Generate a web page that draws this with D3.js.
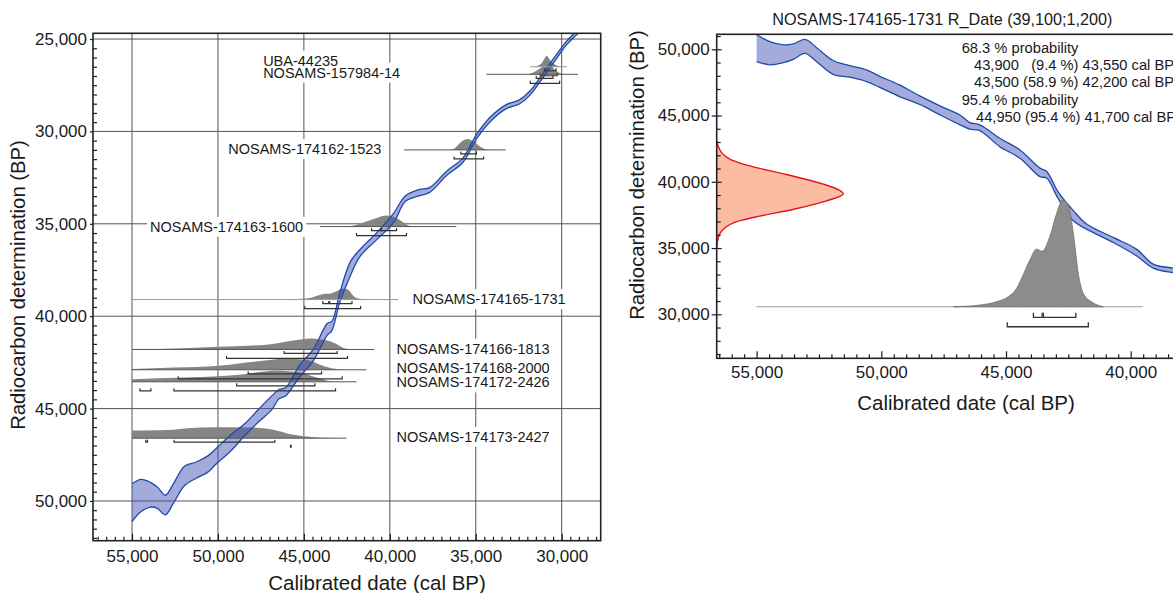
<!DOCTYPE html>
<html><head><meta charset="utf-8">
<script src="https://cdn.jsdelivr.net/npm/d3@7"></script>
<style>
body{margin:0;background:#fff;}
svg{display:block;font-family:"Liberation Sans",Arial,Helvetica,sans-serif;}
</style></head><body>
<svg id="chart" width="1173" height="593"></svg>
<script>
// ---------- DATA ----------
// calibration curve (cal BP, radiocarbon BP, 1-sigma half width)
const curveCal = [55000,54470,53930,53530,53060,52590,51930,51260,50590,50060,49270,48460,47650,46850,46450,46050,45250,44440,43640,43370,42910,42300,41770,40700,39770,39100,38310,37680,36700,35740,34960,34190,33220,32440,31860,31280,30310,29730,29150,28600];
const curveBP  = [50090,49700,49660,49820,50220,49590,48630,48330,48000,47540,46870,46160,45390,44670,44220,44080,42970,42090,40710,40530,38990,37440,36620,35610,34670,33640,33320,33170,32270,31550,30290,29380,28660,28390,27940,27220,25960,25230,24690,24200];
const curveErr = [1020,870,670,580,530,530,520,440,440,420,440,320,340,370,250,220,320,310,320,250,250,380,190,190,250,150,170,130,120,120,120,120,110,110,110,110,110,100,100,100];

const sampleNames = ["UBA-44235","NOSAMS-157984-14","NOSAMS-174162-1523","NOSAMS-174163-1600","NOSAMS-174165-1731","NOSAMS-174166-1813","NOSAMS-174168-2000","NOSAMS-174172-2426","NOSAMS-174173-2427"];
const sampleBP   = [26500,26910,31000,35150,39100,41800,42900,43550,46600];
const sampleFrom = [31830,34380,39170,44070,55000,55000,55000,55000,55000];
const sampleTo   = [29700,29050,33260,36130,39520,40910,41360,41940,42520];
// calibrated probability (cal BP, relative density)
const sampleDensity = [
  [[31700,0],[31400,0.1],[31150,0.35],[31000,0.75],[30880,1],[30750,0.8],[30600,0.45],[30400,0.2],[30150,0.05],[29900,0]],
  [[32000,0],[31700,0.15],[31400,0.4],[31100,0.7],[30850,1],[30600,0.75],[30350,0.35],[30100,0.1],[29800,0]],
  [[36500,0],[36320,0.05],[36030,0.45],[35740,0.85],[35450,1],[35160,0.78],[34870,0.45],[34580,0.15],[34380,0.03],[34100,0]],
  [[43000,0],[42300,0.05],[42035,0.12],[41355,0.47],[40773,0.78],[40192,1],[39611,0.78],[39128,0.3],[38837,0.05],[38400,0]],
  [[47100,0],[46040,0.016],[45380,0.047],[44910,0.094],[44580,0.17],[44310,0.3],[44040,0.44],[43770,0.54],[43550,0.52],[43240,0.66],[42970,0.875],[42730,1],[42500,0.95],[42300,0.69],[42100,0.31],[41900,0.125],[41570,0.047],[41100,0]],
  [[55000,0.03],[52000,0.12],[50000,0.25],[48000,0.36],[46800,0.5],[46100,0.7],[45300,0.88],[44650,1],[44000,0.9],[43400,0.7],[43000,0.4],[42620,0.09],[42200,0.02],[41500,0]],
  [[55000,0.06],[52500,0.2],[50000,0.37],[47660,0.78],[46100,1],[44940,0.93],[44550,0.78],[43780,0.3],[43000,0.05],[42600,0]],
  [[55000,0.23],[52000,0.38],[50000,0.5],[48620,0.67],[46690,1],[45130,0.83],[44360,0.43],[43700,0.12],[43000,0]],
  [[55000,0.7],[53500,0.72],[52600,0.76],[51800,0.9],[50100,1],[48100,0.97],[46600,0.7],[45600,0.3],[44400,0.09],[43500,0.02],[42900,0]]
];
const range68 = [
  [[31010,30330]],
  [[31480,30510]],
  [[35870,34960]],
  [[41060,40500],[40480,39610]],
  [[43900,43550],[43500,42200]],
  [[46150,43060]],
  [[48240,43970]],
  [[48910,44360]],
  [[54200,54100],[52560,46690]]
];
const range95 = [
  [[31250,30260]],
  [[31830,30120]],
  [[36260,34540]],
  [[41940,39030]],
  [[44950,41700]],
  [[49500,42460]],
  [[52310,42770]],
  [[54540,53900],[52560,43160]],
  [[45780,45740]]
];
const labelCal = [47370,47370,49400,53950,38680,39610,39610,39610,39610];
const labelBP  = [26160,26810,30950,35150,39070,41740,42800,43570,46520];

const rDateCurve = [[43060,0],[42500,0.02],[42190,0.04],[41680,0.11],[41180,0.27],[40550,0.55],[39800,0.85],[39300,0.98],[39100,1],[38540,0.86],[37910,0.6],[37410,0.34],[37030,0.17],[36400,0.05],[35700,0.01],[35000,0]];
const detailIndex = 4;
const detailTitle = "NOSAMS-174165-1731 R_Date (39,100;1,200)";
const detailText = ["68.3 % probability","43,900   (9.4 %) 43,550 cal BP","43,500 (58.9 %) 42,200 cal BP","95.4 % probability","44,950 (95.4 %) 41,700 cal BP"];

const calTicksL = [55000,50000,45000,40000,35000,30000];
const bpTicksL  = [25000,30000,35000,40000,45000,50000];
const calTicksR = [55000,50000,45000,40000];
const bpTicksR  = [30000,35000,40000,45000,50000];
const xTitle = "Calibrated date (cal BP)";
const yTitle = "Radiocarbon determination (BP)";

// ---------- DRAW ----------
const svg = d3.select("#chart");
const FONT = '"Liberation Sans",Arial,Helvetica,sans-serif';
const fmt = d3.format(",");

const xL = d3.scaleLinear().domain([57270, 27730]).range([93, 600.7]);
const yL = d3.scaleLinear().domain([24690, 52150]).range([33.3, 540.7]);
const xR = d3.scaleLinear().domain([56600, 36620]).range([716.7, 1215]);
const yR = d3.scaleLinear().domain([26680, 51130]).range([358.3, 34.3]);

const defs = svg.append("defs");
defs.append("clipPath").attr("id","clipL").append("rect")
  .attr("x",xL.range()[0]).attr("y",yL.range()[0]).attr("width",xL.range()[1]-xL.range()[0]).attr("height",yL.range()[1]-yL.range()[0]);
defs.append("clipPath").attr("id","clipR").append("rect")
  .attr("x",xR.range()[0]).attr("y",yR.range()[1]).attr("width",xR.range()[1]-xR.range()[0]).attr("height",yR.range()[0]-yR.range()[1]);

const curveData = curveCal.map((c,i)=>({cal:c, bp:curveBP[i], err:curveErr[i]}));
const BLUE = "#1f4aa8", BANDFILL = "rgba(60,80,180,0.48)";

function drawCurve(g, xs, ys){
  const cv = d3.curveCatmullRom.alpha(0.5);
  g.append("path").datum(curveData)
    .attr("d", d3.area().x(d=>xs(d.cal)).y0(d=>ys(d.bp-d.err)).y1(d=>ys(d.bp+d.err)).curve(cv))
    .attr("fill", BANDFILL).attr("stroke","none");
  [-1,1].forEach(s=>{
    g.append("path").datum(curveData)
      .attr("d", d3.line().x(d=>xs(d.cal)).y(d=>ys(d.bp+s*d.err)).curve(cv))
      .attr("fill","none").attr("stroke",BLUE).attr("stroke-width",1.3);
  });
}
function bracketPath(xs, y, r, t){
  return `M${xs(r[0])},${y-t}L${xs(r[0])},${y}L${xs(r[1])},${y}L${xs(r[1])},${y-t}`;
}
function styleAxis(g, size){
  g.attr("font-size", size).attr("font-family", FONT).attr("color","#1a1a1a");
  g.select(".domain").remove();
  g.selectAll(".tick line").attr("stroke-width",1.2);
}

// ===== LEFT PANEL =====
const L = svg.append("g");
const x0L = xL.range()[0], x1L = xL.range()[1], y0L = yL.range()[0], y1L = yL.range()[1];
// grid
L.append("g").selectAll("line").data(calTicksL).join("line")
  .attr("x1",d=>xL(d)).attr("x2",d=>xL(d)).attr("y1",y0L).attr("y2",y1L)
  .attr("stroke","#555").attr("stroke-width",1);
L.append("g").selectAll("line").data(bpTicksL).join("line")
  .attr("y1",d=>yL(d)).attr("y2",d=>yL(d)).attr("x1",x0L).attr("x2",x1L)
  .attr("stroke","#555").attr("stroke-width",1);

// labels with white backgrounds
const labBg = L.append("g"), labTx = L.append("g");
sampleNames.forEach((n,i)=>{
  labTx.append("text").attr("x", xL(labelCal[i])).attr("y", yL(labelBP[i])).attr("dy","0.36em")
    .attr("font-size",14.5).attr("fill","#1a1a1a").text(n);
});
labTx.selectAll("text").each(function(){
  const bb = this.getBBox();
  labBg.append("rect").attr("x",bb.x-3).attr("y",bb.y-2).attr("width",bb.width+6).attr("height",bb.height+4).attr("fill","#fff");
});

// distributions
const dataL = L.append("g").attr("clip-path","url(#clipL)");
sampleDensity.forEach((dens,i)=>{
  const base = yL(sampleBP[i]);
  dataL.append("path").datum(dens)
    .attr("d", d3.area().x(d=>xL(d[0])).y0(base).y1(d=>base-d[1]*11).curve(d3.curveMonotoneX))
    .attr("fill","#858585");
});
drawCurve(dataL, xL, yL);
sampleNames.forEach((n,i)=>{
  const base = yL(sampleBP[i]);
  dataL.append("line").attr("x1",xL(sampleFrom[i])).attr("x2",xL(sampleTo[i])).attr("y1",base).attr("y2",base)
    .attr("stroke", i===0||i===detailIndex ? "#999" : "#555").attr("stroke-width",1);
  range68[i].forEach(r=>dataL.append("path").attr("d",bracketPath(xL, base+4, r, 2.5)).attr("fill","none").attr("stroke","#333").attr("stroke-width",1.2));
  range95[i].forEach(r=>dataL.append("path").attr("d",bracketPath(xL, base+9, r, 2.5)).attr("fill","none").attr("stroke","#333").attr("stroke-width",1.2));
});

// axes left
const minorCalL = d3.range(28000, 57001, 500).filter(d=>d%5000!==0);
const minorBpL = d3.range(25000, 52001, 500).filter(d=>d%5000!==0);
L.append("g").attr("transform",`translate(0,${y1L})`)
  .call(d3.axisBottom(xL).tickValues(calTicksL).tickSize(-7).tickPadding(9).tickFormat(fmt)).call(g=>styleAxis(g,17));
L.append("g").attr("transform",`translate(0,${y1L})`)
  .call(d3.axisBottom(xL).tickValues(minorCalL).tickSize(-4).tickFormat("")).call(g=>styleAxis(g,17));
L.append("g").attr("transform",`translate(${x0L},0)`)
  .call(d3.axisLeft(yL).tickValues(bpTicksL).tickSize(3).tickPadding(3).tickFormat(fmt)).call(g=>styleAxis(g,17));
L.append("g").attr("transform",`translate(${x0L},0)`)
  .call(d3.axisLeft(yL).tickValues(minorBpL).tickSize(-4).tickFormat("")).call(g=>styleAxis(g,17));
L.append("rect").attr("x",x0L).attr("y",y0L).attr("width",x1L-x0L).attr("height",y1L-y0L)
  .attr("fill","none").attr("stroke","#222").attr("stroke-width",1.6);
L.append("text").attr("x",377).attr("y",589.5).attr("text-anchor","middle").attr("font-size",20.5).attr("fill","#1a1a1a").text(xTitle);
L.append("text").attr("transform","translate(24.5,285) rotate(-90)").attr("text-anchor","middle").attr("font-size",20.3).attr("fill","#1a1a1a").text(yTitle);

// ===== RIGHT PANEL =====
const R = svg.append("g");
const x0R = xR.range()[0], x1R = xR.range()[1], yTopR = yR.range()[1], yBotR = yR.range()[0];
const dataR = R.append("g").attr("clip-path","url(#clipR)");
// red R_Date
const redPeak = 126.7;
dataR.append("path").datum(rDateCurve)
  .attr("d", d3.area().y(d=>yR(d[0])).x0(x0R).x1(d=>x0R+d[1]*redPeak).curve(d3.curveMonotoneY))
  .attr("fill","#fbbca3");
dataR.append("path").datum(rDateCurve)
  .attr("d", d3.line().y(d=>yR(d[0])).x(d=>x0R+d[1]*redPeak).curve(d3.curveMonotoneY))
  .attr("fill","none").attr("stroke","#e3141b").attr("stroke-width",1.4);
// calibration curve
drawCurve(dataR, xR, yR);
// posterior
const baseR = yR(30570);
dataR.append("line").attr("x1",xR(sampleFrom[detailIndex])).attr("x2",xR(sampleTo[detailIndex])).attr("y1",baseR).attr("y2",baseR)
  .attr("stroke","#9a9a9a").attr("stroke-width",1.1);
dataR.append("path").datum(sampleDensity[detailIndex])
  .attr("d", d3.area().x(d=>xR(d[0])).y0(baseR).y1(d=>baseR-d[1]*106.7).curve(d3.curveMonotoneX))
  .attr("fill","#8c8c8c").attr("stroke","#6d6d6d").attr("stroke-width",0.8);
range68[detailIndex].forEach(r=>dataR.append("path").attr("d",bracketPath(xR, baseR+10.6, r, 4.5)).attr("fill","none").attr("stroke","#333").attr("stroke-width",1.3));
range95[detailIndex].forEach(r=>dataR.append("path").attr("d",bracketPath(xR, baseR+20, r, 4.5)).attr("fill","none").attr("stroke","#333").attr("stroke-width",1.3));

// axes right
const minorCalR = d3.range(37000, 56501, 500).filter(d=>d%5000!==0);
const minorBpR = d3.range(27000, 51001, 1000).filter(d=>d%5000!==0);
R.append("g").attr("transform",`translate(0,${yBotR})`)
  .call(d3.axisBottom(xR).tickValues(calTicksR).tickSize(-7).tickPadding(8).tickFormat(fmt)).call(g=>styleAxis(g,17));
R.append("g").attr("transform",`translate(0,${yBotR})`)
  .call(d3.axisBottom(xR).tickValues(minorCalR).tickSize(-4).tickFormat("")).call(g=>styleAxis(g,17));
R.append("g").attr("transform",`translate(${x0R},0)`)
  .call(d3.axisLeft(yR).tickValues(bpTicksR).tickSize(5).tickPadding(2).tickFormat(fmt)).call(g=>styleAxis(g,17));
R.append("g").attr("transform",`translate(${x0R},0)`)
  .call(d3.axisLeft(yR).tickValues(bpTicksR).tickSize(-5).tickFormat("")).call(g=>styleAxis(g,17));
R.append("g").attr("transform",`translate(${x0R},0)`)
  .call(d3.axisLeft(yR).tickValues(minorBpR).tickSize(-4).tickFormat("")).call(g=>styleAxis(g,17));
R.append("rect").attr("x",x0R).attr("y",yTopR).attr("width",x1R-x0R).attr("height",yBotR-yTopR)
  .attr("fill","none").attr("stroke","#222").attr("stroke-width",1.6);
R.append("text").attr("x",772.3).attr("y",25).attr("font-size",16.2).attr("fill","#1a1a1a").text(detailTitle);
const infoX = [961.7, 974, 974, 961.7, 976];
const infoY = [52.8, 70, 87.3, 104.7, 122];
detailText.forEach((t,i)=>{
  R.append("text").attr("x",infoX[i]).attr("y",infoY[i]).attr("font-size",14.7).attr("fill","#1a1a1a")
    .style("white-space","pre").attr("xml:space","preserve").text(t);
});
R.append("text").attr("x",966).attr("y",410).attr("text-anchor","middle").attr("font-size",20.5).attr("fill","#1a1a1a").text(xTitle);
R.append("text").attr("transform","translate(644,175) rotate(-90)").attr("text-anchor","middle").attr("font-size",20.3).attr("fill","#1a1a1a").text(yTitle);
</script>
</body></html>
